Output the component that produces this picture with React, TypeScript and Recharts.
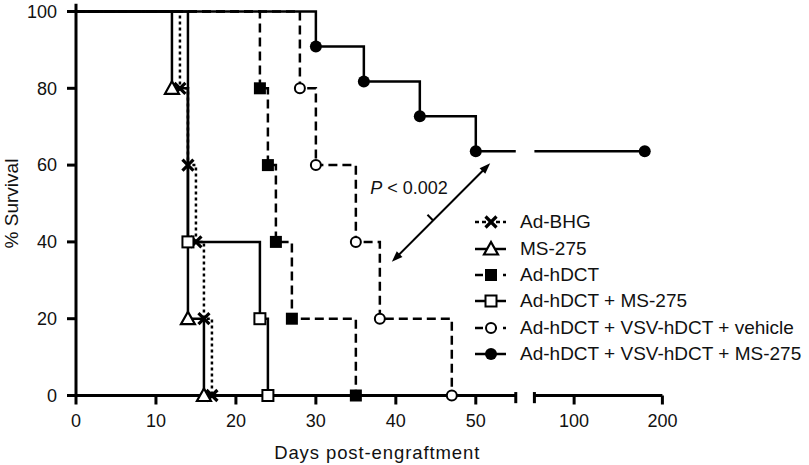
import React from 'react';
import { LineChart, Line, XAxis, YAxis, ReferenceLine, ReferenceDot, Legend } from 'recharts';

// Kaplan-Meier survival curves, % survival vs days post-engraftment.
// x axis is broken: 0-55 on the left, 55-200 compressed on the right.

const FONT = '"Liberation Sans", Arial, Helvetica, sans-serif';

const seriesNames = [
  'Ad-BHG',
  'MS-275',
  'Ad-hDCT',
  'Ad-hDCT + MS-275',
  'Ad-hDCT + VSV-hDCT + vehicle',
  'Ad-hDCT + VSV-hDCT + MS-275',
];

const adBhgDays = [0, 13, 14, 15, 16, 17];
const adBhgSurvival = [100, 80, 60, 40, 20, 0];

const ms275Days = [0, 12, 14, 16];
const ms275Survival = [100, 80, 20, 0];

const adHdctDays = [0, 23, 24, 25, 27, 35];
const adHdctSurvival = [100, 80, 60, 40, 20, 0];

const adHdctMsDays = [0, 14, 23, 24];
const adHdctMsSurvival = [100, 40, 20, 0];

const vehicleDays = [0, 28, 30, 35, 38, 47];
const vehicleSurvival = [100, 80, 60, 40, 20, 0];

const comboDays = [0, 30, 36, 43, 50, 180];
const comboSurvival = [100, 90.9, 81.8, 72.7, 63.6, 63.6];

const xTickDays = [0, 10, 20, 30, 40, 50, 100, 200];
const yTicks = [0, 20, 40, 60, 80, 100];

// axis break settings (in left-segment day units)
const BREAK_AT = 55;
const RIGHT_START = 57.33;
const RIGHT_SCALE = 0.1104;

const toPos = (day: number) => (day <= BREAK_AT ? day : RIGHT_START + (day - BREAK_AT) * RIGHT_SCALE);
const fromPos = (pos: number) => (pos <= BREAK_AT + 1 ? pos : BREAK_AT + (pos - RIGHT_START) / RIGHT_SCALE);
const X_MAX = toPos(200);

type Row = { x: number; y: number | null; mark: boolean };

// one row per event, with a gap where a curve crosses the axis break
function buildRows(days: number[], survival: number[]): Row[] {
  const rows: Row[] = [];
  days.forEach((d, i) => {
    if (i > 0 && days[i - 1] < BREAK_AT && d > BREAK_AT) {
      const y = survival[i - 1];
      rows.push({ x: BREAK_AT, y, mark: false });
      rows.push({ x: (BREAK_AT + RIGHT_START) / 2, y: null, mark: false });
      rows.push({ x: RIGHT_START, y, mark: false });
    }
    rows.push({ x: toPos(d), y: survival[i], mark: i > 0 });
  });
  return rows;
}

const series = [
  { data: buildRows(adBhgDays, adBhgSurvival), shape: 'cross', dash: '3 3', legendDash: '4 3' },
  { data: buildRows(ms275Days, ms275Survival), shape: 'triangle', dash: undefined, legendDash: undefined },
  { data: buildRows(adHdctDays, adHdctSurvival), shape: 'squareFilled', dash: '9 5', legendDash: '8 6' },
  { data: buildRows(adHdctMsDays, adHdctMsSurvival), shape: 'squareOpen', dash: undefined, legendDash: undefined },
  { data: buildRows(vehicleDays, vehicleSurvival), shape: 'circleOpen', dash: '9 5', legendDash: '8 6' },
  { data: buildRows(comboDays, comboSurvival), shape: 'circleFilled', dash: undefined, legendDash: undefined },
];

function Marker({ shape, cx, cy }: { shape: string; cx: number; cy: number }) {
  switch (shape) {
    case 'cross':
      return (
        <g stroke="#000" strokeWidth={3.2}>
          <line x1={cx - 5.5} y1={cy - 5.5} x2={cx + 5.5} y2={cy + 5.5} />
          <line x1={cx - 5.5} y1={cy + 5.5} x2={cx + 5.5} y2={cy - 5.5} />
        </g>
      );
    case 'triangle':
      return (
        <polygon
          points={`${cx},${cy - 7} ${cx - 7},${cy + 5.5} ${cx + 7},${cy + 5.5}`}
          fill="#fff"
          stroke="#000"
          strokeWidth={2.2}
          strokeLinejoin="miter"
        />
      );
    case 'squareFilled':
      return <rect x={cx - 6} y={cy - 6} width={12} height={12} fill="#000" />;
    case 'squareOpen':
      return <rect x={cx - 5.5} y={cy - 5.5} width={11} height={11} fill="#fff" stroke="#000" strokeWidth={2} />;
    case 'circleOpen':
      return <circle cx={cx} cy={cy} r={5} fill="#fff" stroke="#000" strokeWidth={2} />;
    default:
      return <circle cx={cx} cy={cy} r={6} fill="#000" />;
  }
}

const makeDot = (shape: string) => (props: any) => {
  const { cx, cy, payload, index } = props;
  if (!payload || !payload.mark || cx == null || cy == null) return <g key={`d-${index}`} />;
  return (
    <g key={`d-${index}`}>
      <Marker shape={shape} cx={cx} cy={cy} />
    </g>
  );
};

// double-headed arrow with a small tick, between two survival curves
function Arrow(props: any) {
  const { x1, y1, x2, y2 } = props;
  const len = Math.hypot(x2 - x1, y2 - y1);
  const ux = (x2 - x1) / len;
  const uy = (y2 - y1) / len;
  const px = -uy;
  const py = ux;
  const head = (tx: number, ty: number, dir: number) => {
    const bx = tx - dir * ux * 11;
    const by = ty - dir * uy * 11;
    return `${tx},${ty} ${bx + px * 4},${by + py * 4} ${bx - px * 4},${by - py * 4}`;
  };
  const tx = x1 + (x2 - x1) * 0.42;
  const ty = y1 + (y2 - y1) * 0.42;
  // tick points up-left
  const sx = px > 0 ? -px : px;
  const sy = py > 0 ? -py : py;
  return (
    <g>
      <line x1={x1 + ux * 6} y1={y1 + uy * 6} x2={x2 - ux * 6} y2={y2 - uy * 6} stroke="#000" strokeWidth={2} />
      <polygon points={head(x1, y1, -1)} fill="#000" />
      <polygon points={head(x2, y2, 1)} fill="#000" />
      <line x1={tx} y1={ty} x2={tx + sx * 8} y2={ty + sy * 8} stroke="#000" strokeWidth={2} />
    </g>
  );
}

const renderLegend = () => (
  <div style={{ fontFamily: FONT, fontSize: 19, color: '#111', whiteSpace: 'nowrap' }}>
    {series.map((s, i) => (
      <div key={seriesNames[i]} style={{ display: 'flex', alignItems: 'center', height: 26.4 }}>
        <svg width={45} height={20} style={{ display: 'block' }}>
          <line x1={0} y1={10} x2={31} y2={10} stroke="#000" strokeWidth={2.5} strokeDasharray={s.legendDash} />
          <Marker shape={s.shape} cx={16} cy={10} />
        </svg>
        <span>{seriesNames[i]}</span>
      </div>
    ))}
  </div>
);

export default function App() {
  return (
    <div style={{ position: 'absolute', left: 0, top: 0, background: '#fff' }}>
      <LineChart width={809} height={465} margin={{ top: 11.5, right: 146.6, bottom: 3.5, left: 0 }}>
        <XAxis
          type="number"
          dataKey="x"
          domain={[0, X_MAX]}
          ticks={xTickDays.map(toPos)}
          interval={0}
          tickFormatter={(v: number) => String(Math.round(fromPos(v)))}
          axisLine={false}
          tickSize={9}
          tickMargin={10}
          tickLine={{ stroke: '#000', strokeWidth: 3 }}
          tick={{ fill: '#111', fontSize: 18, fontFamily: FONT }}
          height={66}
          allowDataOverflow
          label={{
            content: (p: any) => {
              const vb = p.viewBox;
              return (
                <text
                  x={vb.x + vb.width / 2 + 8}
                  y={vb.y + vb.height - 3}
                  textAnchor="middle"
                  fill="#111"
                  fontSize={18.5}
                  fontFamily={FONT}
                  letterSpacing={0.9}
                >
                  Days post-engraftment
                </text>
              );
            },
          }}
        />
        <YAxis
          type="number"
          domain={[0, 100]}
          ticks={yTicks}
          interval={0}
          width={76}
          axisLine={false}
          tickSize={9}
          tickMargin={10}
          tickLine={{ stroke: '#000', strokeWidth: 3 }}
          tick={{ fill: '#111', fontSize: 18, fontFamily: FONT }}
          label={{
            value: '% Survival',
            angle: -90,
            position: 'insideLeft',
            offset: 11,
            style: { textAnchor: 'middle', fontSize: 19, fontFamily: FONT, fill: '#111' },
          }}
        />

        {/* broken axis lines */}
        <ReferenceLine segment={[{ x: 0, y: -0.4 }, { x: 0, y: 102 }]} stroke="#000" strokeWidth={3} ifOverflow="visible" />
        <ReferenceLine segment={[{ x: 0, y: 0 }, { x: BREAK_AT, y: 0 }]} stroke="#000" strokeWidth={3} ifOverflow="visible" />
        <ReferenceLine segment={[{ x: RIGHT_START, y: 0 }, { x: X_MAX, y: 0 }]} stroke="#000" strokeWidth={3} ifOverflow="visible" />
        <ReferenceLine segment={[{ x: BREAK_AT, y: 0.9 }, { x: BREAK_AT, y: -2 }]} stroke="#000" strokeWidth={3} ifOverflow="visible" />
        <ReferenceLine segment={[{ x: RIGHT_START, y: 0.9 }, { x: RIGHT_START, y: -2 }]} stroke="#000" strokeWidth={3} ifOverflow="visible" />

        {series.map((s, i) => (
          <Line
            key={seriesNames[i]}
            name={seriesNames[i]}
            data={s.data}
            dataKey="y"
            type="stepAfter"
            stroke="#000"
            strokeWidth={2.5}
            strokeDasharray={s.dash}
            dot={makeDot(s.shape)}
            activeDot={false}
            isAnimationActive={false}
          />
        ))}

        <ReferenceLine
          segment={[{ x: 39.5, y: 34.8 }, { x: 51.8, y: 60.5 }]}
          ifOverflow="visible"
          shape={(p: any) => <Arrow {...p} />}
        />
        <ReferenceDot
          x={36.8}
          y={52.6}
          r={0}
          ifOverflow="visible"
          shape={(p: any) => (
            <text x={p.cx} y={p.cy} fill="#111" fontSize={18} fontFamily={FONT}>
              <tspan fontStyle="italic">P</tspan> {'< 0.002'}
            </text>
          )}
        />

        <Legend
          layout="vertical"
          align="center"
          verticalAlign="middle"
          content={renderLegend}
          wrapperStyle={{ left: 475, top: 209, width: 334 }}
        />
      </LineChart>
    </div>
  );
}
